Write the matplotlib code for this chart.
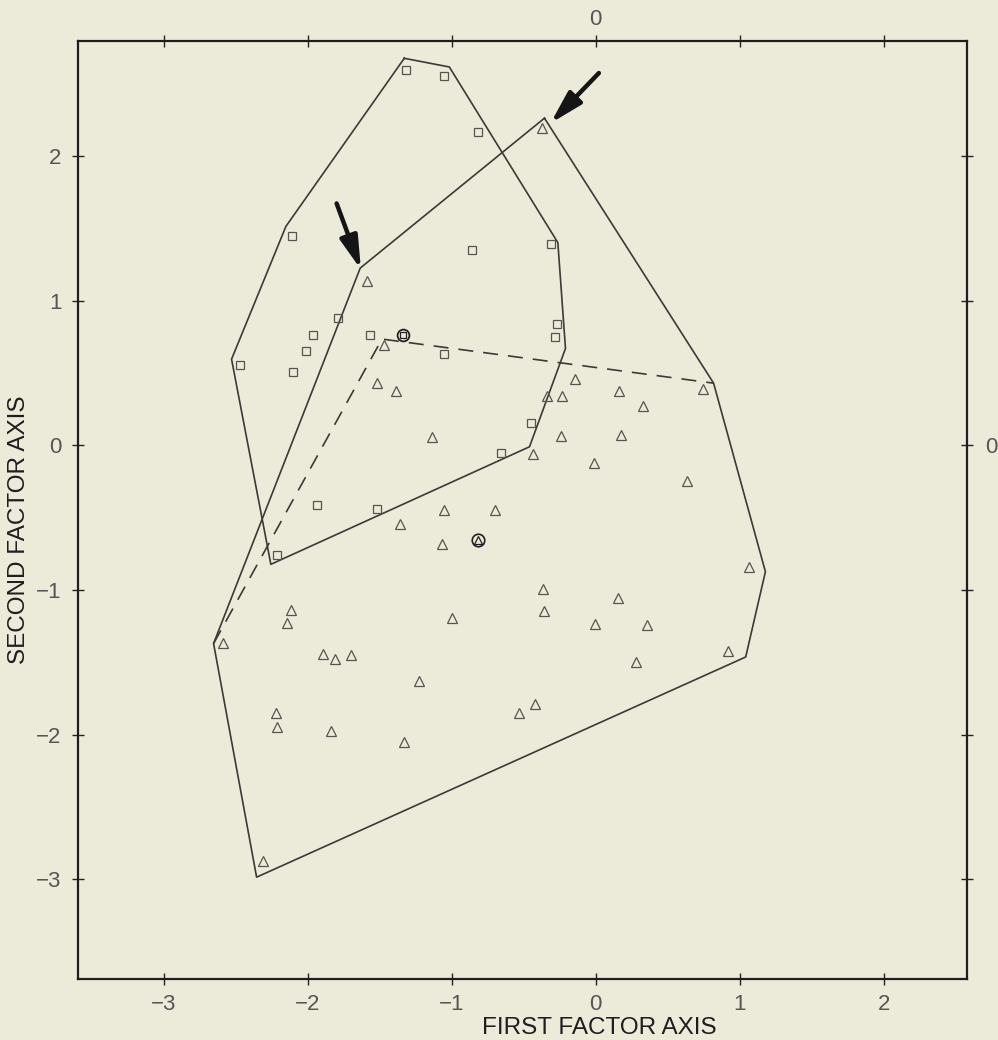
import matplotlib.pyplot as plt

plt.rcParams['font.family'] = ['Liberation Sans', 'DejaVu Sans']

# group 1 scores (squares)
sq_x = [-1.318, -1.051, -0.817, -2.113, -0.861, -0.312, -1.793, -0.268, -1.962, -1.566,
        -0.280, -2.011, -2.470, -1.051, -2.104, -0.451, -0.655, -1.937, -1.519, -2.215]
sq_y = [2.597, 2.553, 2.167, 1.451, 1.354, 1.391, 0.882, 0.840, 0.762, 0.764,
        0.750, 0.655, 0.556, 0.632, 0.507, 0.155, -0.049, -0.412, -0.440, -0.757]

# group 2 scores (triangles)
tri_x = [-0.372, -1.589, -1.469, -0.147, -1.519, 0.743, -1.387, 0.161, -0.340, -0.233,
         0.328, 0.179, -0.238, -1.137, -0.437, -0.015, 0.631, -1.056, -0.701, -1.360,
         -1.065, 1.063, -0.367, 0.156, -2.115, -0.356, -0.996, -2.147, -0.008, 0.353,
         -2.588, 0.921, -1.895, -1.698, -1.814, 0.279, -1.230, -0.421, -0.530, -2.220,
         -2.213, -1.839, -1.330, -2.312]
tri_y = [2.194, 1.137, 0.694, 0.458, 0.435, 0.394, 0.377, 0.377, 0.342, 0.342,
         0.276, 0.069, 0.065, 0.058, -0.060, -0.118, -0.243, -0.444, -0.449, -0.542,
         -0.683, -0.840, -0.993, -1.056, -1.139, -1.144, -1.194, -1.231, -1.236, -1.245,
         -1.366, -1.421, -1.444, -1.449, -1.477, -1.498, -1.632, -1.789, -1.847, -1.849,
         -1.949, -1.977, -2.049, -2.875]

# convex hulls
sq_hull_x = [-1.330, -1.017, -0.263, -0.210, -0.460, -2.257, -2.530, -2.152, -1.330]
sq_hull_y = [2.678, 2.618, 1.403, 0.671, -0.009, -0.822, 0.597, 1.516, 2.678]
tri_hull_x = [-0.356, 0.819, 1.179, 1.042, -2.356, -2.655, -1.636, -0.356]
tri_hull_y = [2.264, 0.431, -0.873, -1.463, -2.986, -1.370, 1.227, 2.264]
# hull of group 2 without the two outliers
trim_x = [-2.655, -1.485, 0.819]
trim_y = [-1.370, 0.736, 0.431]

# group means
sq_mean = (-1.341, 0.764)
tri_mean = (-0.819, -0.653)

# arrows pointing at the outliers: (tail, tip)
arrows = [((0.022, 2.576), (-0.314, 2.229)),
          ((-1.800, 1.674), (-1.631, 1.217))]

bg = '#ecebda'
fig = plt.figure(figsize=(9.98, 10.40), dpi=100, facecolor=bg)
ax = fig.add_axes([0.0777, 0.0587, 0.8913, 0.9022], facecolor=bg)

line_c = '#3a3a36'
mark_c = '#55554f'
ax.plot(sq_hull_x, sq_hull_y, color=line_c, lw=1.2)
ax.plot(tri_hull_x, tri_hull_y, color=line_c, lw=1.2)
ax.plot(trim_x, trim_y, color=line_c, lw=1.2, dashes=(9, 6))

ax.plot(sq_x, sq_y, 's', ms=5.5, mfc='none', mec=mark_c, mew=0.9)
ax.plot(tri_x, tri_y, '^', ms=6.5, mfc='none', mec=mark_c, mew=0.9)

# means: circle around the group symbol
ax.plot(*sq_mean, 'o', ms=8.5, mfc='none', mec='#222', mew=1.3)
ax.plot(*sq_mean, 's', ms=4.5, mfc='none', mec='#222', mew=0.9)
ax.plot(*tri_mean, 'o', ms=9, mfc='none', mec='#222', mew=1.2)
ax.plot(*tri_mean, '^', ms=5.5, mfc='none', mec='#222', mew=0.9)

for tail, tip in arrows:
    ax.annotate('', xy=tip, xytext=tail,
                arrowprops=dict(arrowstyle='-|>,head_length=1.1,head_width=0.3',
                                color='#151515', lw=3.2, mutation_scale=18,
                                shrinkA=0, shrinkB=0))

ax.set_xlim(-3.6, 2.58)
ax.set_ylim(-3.69, 2.80)
ticks = [-3, -2, -1, 0, 1, 2]
ax.set_xticks(ticks)
ax.set_yticks(ticks)
ax.tick_params(direction='inout', length=9, width=1, color='#222',
               labelsize=16, labelcolor='#555', top=True, right=True)
ax.tick_params(axis='x', pad=6)
ax.tick_params(axis='y', pad=7)

top = ax.secondary_xaxis('top')
top.set_xticks(ticks, ['', '', '', '0', '', ''])
top.tick_params(length=0, labelsize=16, labelcolor='#555', pad=8)
right = ax.secondary_yaxis('right')
right.set_yticks(ticks, ['', '', '', '0', '', ''])
right.tick_params(length=0, labelsize=16, labelcolor='#555', pad=13)
for sec in (top, right):
    for s in sec.spines.values():
        s.set_visible(False)

for s in ax.spines.values():
    s.set_linewidth(1.6)
    s.set_color('#1e1e1e')

ax.set_xlabel('FIRST FACTOR AXIS', fontsize=17.5, color='#1e1e1e')
ax.set_ylabel('SECOND FACTOR AXIS', fontsize=17.5, color='#1e1e1e')
ax.xaxis.set_label_coords(0.587, -0.041)
ax.yaxis.set_label_coords(-0.053, 0.479)

fig.savefig('out.png', dpi=100, facecolor=bg)
